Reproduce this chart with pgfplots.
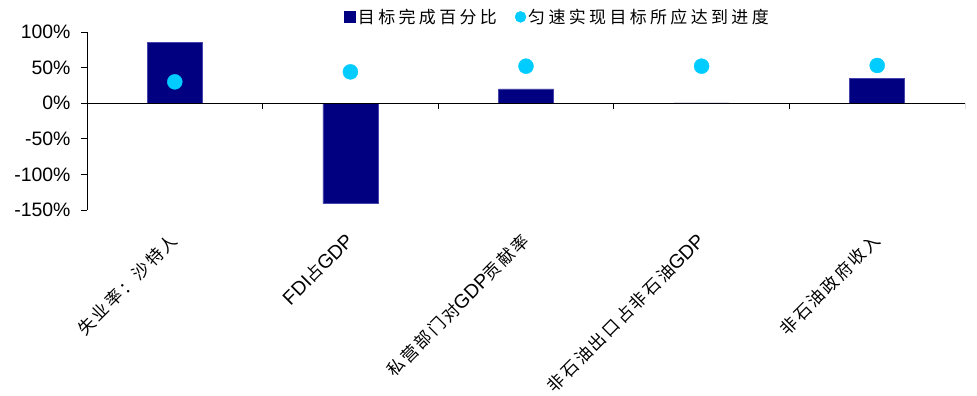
\documentclass[border=0pt]{standalone}
\usepackage{fontspec}
\setmainfont{Liberation Sans}
\newfontfamily\cjk[LetterSpace=20]{Noto Sans CJK SC}
\newfontfamily\cjkl[LetterSpace=14]{Noto Sans CJK SC}
\newcommand\zh[1]{{\fontsize{17}{20}\selectfont\cjkl #1}}
\usepackage{pgfplots}
\pgfplotsset{compat=1.18}
\definecolor{barblue}{RGB}{0,0,128}
\definecolor{baredge}{RGB}{70,70,170}
\definecolor{dotblue}{RGB}{0,204,255}
\begin{document}
\begin{tikzpicture}
\useasboundingbox (-87bp,-186bp) rectangle (890bp,210bp);
\begin{axis}[
  at={(0,0)}, anchor=south west, scale only axis,
  width=878bp, height=178bp,
  xmin=-0.5, xmax=4.5, ymin=-150, ymax=100,
  axis y line*=left, axis x line*=bottom,
  x axis line style={draw=none},
  y axis line style={black, line width=0.8bp},
  /pgf/number format/assume math mode=true,
  ytick={-150,-100,-50,0,50,100},
  yticklabel={\pgfmathprintnumber{\tick}\%},
  y tick label style={font=\fontsize{19.5}{22}\selectfont, xshift=-7bp},
  tick align=outside, major tick length=6bp,
  ytick style={black, line width=0.8bp},
  xtick={0,1,2,3,4},
  xtick style={draw=none},
  xticklabels={{\zh{失业率：沙特人}},{FDI\zh{占}GDP},{\zh{私营部门对}GDP\zh{贡献率}},{\zh{非石油出口占非石油}GDP},{\zh{非石油政府收入}}},
  x tick label style={font=\fontsize{19.5}{22}\selectfont, rotate=45, anchor=east, xshift=-12bp, yshift=-15bp},
  legend style={at={(0.536,1)}, anchor=south, yshift=3bp, draw=none, fill=none,
    legend columns=2, font=\fontsize{17}{20}\selectfont,
    /tikz/every even column/.append style={column sep=16bp}},
]
\addplot[ybar, bar width=55bp, fill=barblue, draw=baredge, line width=0.5bp,
  legend image code/.code={\fill[barblue] (2bp,-5.5bp) rectangle (13bp,5.5bp);}]
  coordinates {(0,85) (1,-141) (2,20) (3,0.6) (4,35)};
\addlegendentry{\cjk 目标完成百分比}
\addplot[only marks, mark=*, mark size=7.5bp, color=dotblue, mark options={fill=dotblue, draw=dotblue},
  legend image code/.code={\fill[dotblue] (8bp,0bp) circle (5.5bp);}]
  coordinates {(0,30) (1,44) (2,52) (3,52) (4,53)};
\addlegendentry{\cjk 匀速实现目标所应达到进度}
\draw[black, line width=1bp] (axis cs:-0.5,0) -- (axis cs:4.5,0);
\pgfplotsinvokeforeach{-0.5,0.5,1.5,2.5,3.5,4.5}{\draw[black, line width=0.8bp] (axis cs:#1,0) -- ([yshift=-6bp]axis cs:#1,0);}
\end{axis}
\end{tikzpicture}
\end{document}
